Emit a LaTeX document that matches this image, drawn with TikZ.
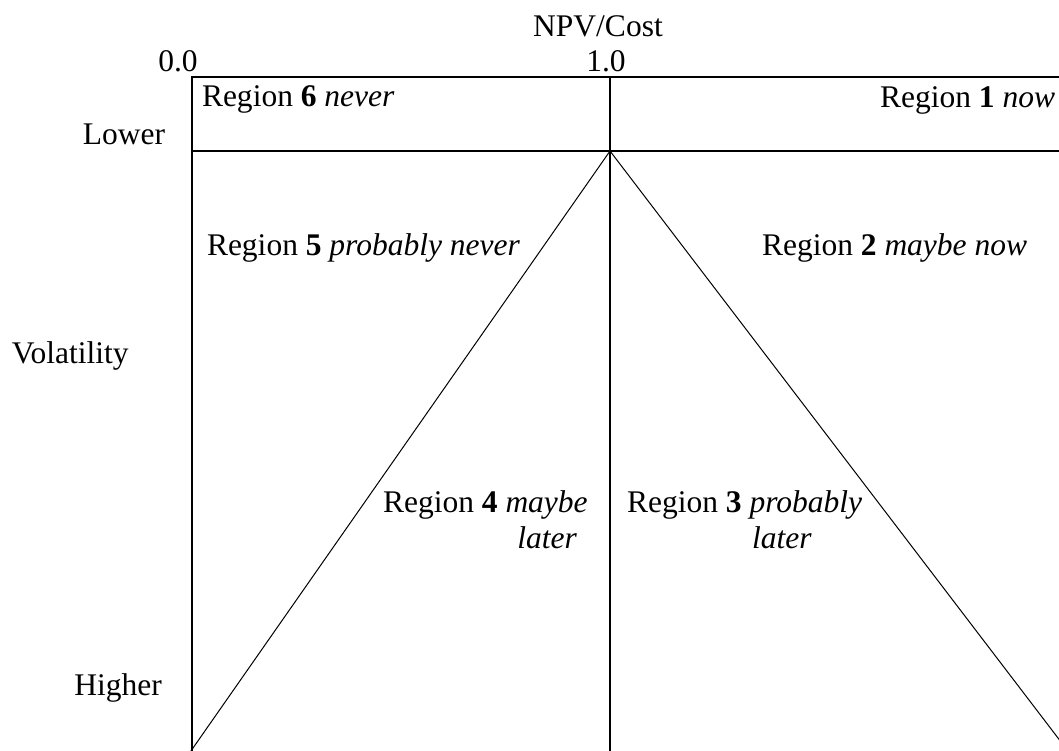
\documentclass[tikz,border=0pt]{standalone}
\usepackage{fontspec}
\setmainfont{Liberation Serif}
\usetikzlibrary{calc}
\begin{document}
\begin{tikzpicture}[x=1pt,y=-1pt,
  lbl/.style={inner sep=0pt,outer sep=0pt,font=\fontsize{31.5pt}{36pt}\selectfont},
  frame/.style={line width=2pt},
  diag/.style={line width=1pt}]
\useasboundingbox (0,0) rectangle (1059,750);
\clip (0,0) rectangle (1059,750);
% frame coordinates
\coordinate (tl) at (192,77);
\coordinate (tr) at (1070,77);
\coordinate (bl) at (192,760);
\coordinate (ml) at (192,151);
\coordinate (mr) at (1070,151);
\coordinate (ct) at (610,77);
\coordinate (cm) at (610,151);
\coordinate (cb) at (610,760);
\coordinate (dl) at (193,748);
\coordinate (dr) at (1058,738);
% frame
\draw[frame] (tr) -- (tl) -- (bl);
\draw[frame] (ml) -- (mr);
\draw[frame] (ct) -- (cb);
% diagonals
\draw[diag] (cm) -- ($(cm)!1.05!(dl)$);
\draw[diag] (cm) -- ($(cm)!1.05!(dr)$);
% axis labels
\node[lbl,anchor=base] (npv) at (598,36) {NPV/Cost};
\node[lbl,anchor=base] (zero) at (178,71) {0.0};
\node[lbl,anchor=base] (one) at (606,71) {1.0};
\node[lbl,anchor=base] (lower) at (124,144) {Lower};
\node[lbl,anchor=base west] (vol) at (12,363) {Volatility};
\node[lbl,anchor=base] (higher) at (118,695) {Higher};
% region labels
\node[lbl,anchor=base west] (r6) at (202,106) {Region \textbf{6} \textit{never}};
\node[lbl,anchor=base east] (r1) at (1055,107) {Region \textbf{1} \textit{now}};
\node[lbl,anchor=base west] (r5) at (207,255) {Region \textbf{5} \textit{probably never}};
\node[lbl,anchor=base west] (r2) at (762,255) {Region \textbf{2} \textit{maybe now}};
\node[lbl,anchor=base west] (r4a) at (383,512) {Region \textbf{4} \textit{maybe}};
\node[lbl,anchor=base east] (r4b) at (577,548) {\textit{later}};
\node[lbl,anchor=base west] (r3a) at (627,512) {Region \textbf{3} \textit{probably}};
\node[lbl,anchor=base] (r3b) at (782,548) {\textit{later}};
\end{tikzpicture}
\end{document}
